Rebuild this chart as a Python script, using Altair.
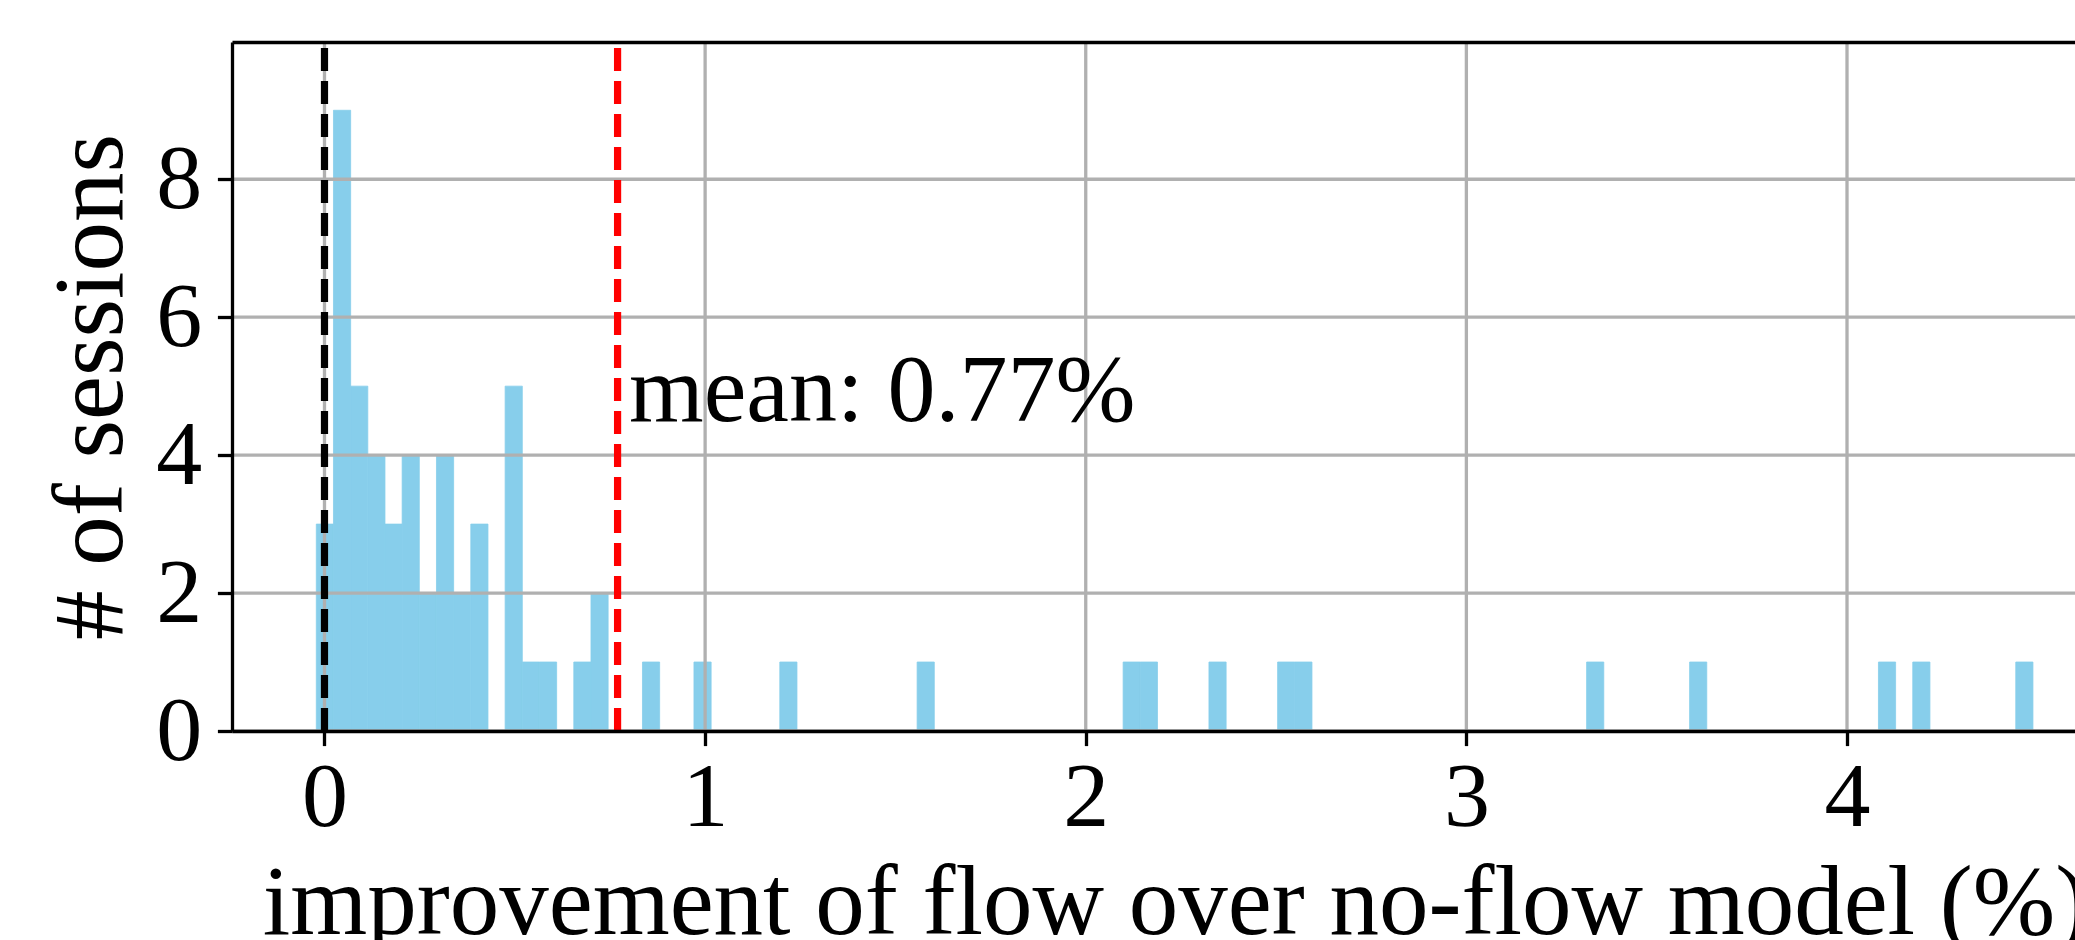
import altair as alt
import pandas as pd

# ---- data ----
bin_start = -0.0215          # left edge of the first bin
bin_width = 0.0451           # width of every bin (100 bins)
bin_numbers = [0, 1, 2, 3, 4, 5, 6, 7, 8, 9, 11, 12, 13, 15, 16, 19, 22,
               27, 35, 47, 48, 52, 56, 57, 74, 80, 91, 93, 99]
bin_counts = [3, 9, 5, 4, 3, 4, 2, 4, 2, 3, 5, 1, 1, 1, 2, 1, 1,
              1, 1, 1, 1, 1, 1, 1, 1, 1, 1, 1, 1]

zero_line = 0.0
mean_value = 0.77
label_text = "mean: 0.77%"
label_x = 0.80
label_y = 4.5

x_ticks = [0, 1, 2, 3, 4]
y_ticks = [0, 2, 4, 6, 8]
x_domain = [-0.243, 4.599]
y_domain = [0, 9.99]

x_title = "improvement of flow over no-flow model (%)"
y_title = "# of sessions"

# ---- tables ----
hist_df = pd.DataFrame({
    "left": [bin_start + n * bin_width for n in bin_numbers],
    "right": [bin_start + (n + 1) * bin_width for n in bin_numbers],
    "count": bin_counts,
})
vline_df = pd.DataFrame({"v": [zero_line, mean_value], "c": ["black", "red"]})
text_df = pd.DataFrame({"x": [label_x], "y": [label_y], "t": [label_text]})
gx_df = pd.DataFrame({"v": x_ticks})
gy_df = pd.DataFrame({"v": y_ticks})

FONT = "Liberation Serif"
W, H = 1843, 689
LW = 3.3
BAR = "#87CEEB"

x_scale = alt.Scale(domain=x_domain, nice=False, zero=False)
y_scale = alt.Scale(domain=y_domain, nice=False, zero=False)

x_axis = alt.Axis(
    orient="bottom", values=x_ticks, format="d", grid=False,
    domain=True, domainColor="black", domainWidth=LW,
    ticks=True, tickColor="black", tickWidth=LW, tickSize=14.6,
    labelFont=FONT, labelFontSize=92, labelColor="black", labelPadding=7,
    labelFlush=False, labelOverlap=False,
    title=x_title, titleFont=FONT, titleFontSize=99, titleFontWeight="normal",
    titleColor="black", titleX=943, titleY=202, titleAlign="center",
    titleBaseline="alphabetic", zindex=1,
)
y_axis = alt.Axis(
    orient="left", values=y_ticks, format="d", grid=False,
    domain=True, domainColor="black", domainWidth=LW,
    ticks=True, tickColor="black", tickWidth=LW, tickSize=14.6,
    labelFont=FONT, labelFontSize=92, labelColor="black", labelPadding=15.7,
    labelFlush=False, labelOverlap=False,
    title=y_title, titleFont=FONT, titleFontSize=99, titleFontWeight="normal",
    titleColor="black", titleAngle=270, titleX=-111, titleY=H / 2,
    titleAlign="center", titleBaseline="alphabetic", zindex=1,
)
top_axis = alt.Axis(
    orient="top", labels=False, ticks=False, grid=False, title=None,
    domain=True, domainColor="black", domainWidth=LW, zindex=1,
)

bars = alt.Chart(hist_df).mark_bar(color=BAR, stroke=BAR, strokeWidth=0.8).encode(
    x=alt.X("left:Q", scale=x_scale, axis=x_axis),
    x2="right:Q",
    y=alt.Y("count:Q", scale=y_scale, axis=y_axis),
    y2=alt.Y2Datum(0),
)

grid_x = alt.Chart(gx_df).mark_rule(color="#b0b0b0", strokeWidth=LW).encode(
    x=alt.X("v:Q", scale=x_scale, axis=top_axis),
)
grid_y = alt.Chart(gy_df).mark_rule(color="#b0b0b0", strokeWidth=LW).encode(
    y=alt.Y("v:Q", scale=y_scale, axis=y_axis),
)

vlines = alt.Chart(vline_df).mark_rule(strokeWidth=7.2, strokeDash=[23, 10]).encode(
    x=alt.X("v:Q", scale=x_scale, axis=None),
    y=alt.YDatum(y_domain[0], scale=y_scale, axis=y_axis),
    y2=alt.Y2Datum(y_domain[1]),
    color=alt.Color("c:N", scale=None, legend=None),
)

label = alt.Chart(text_df).mark_text(
    align="left", baseline="alphabetic", font=FONT, fontSize=96, color="black"
).encode(
    x=alt.X("x:Q", scale=x_scale, axis=None),
    y=alt.Y("y:Q", scale=y_scale, axis=y_axis),
    text="t:N",
)

chart = alt.layer(bars, grid_x, grid_y, vlines, label).properties(
    width=W, height=H,
    autosize=alt.AutoSizeParams(type="none"),
    padding={"left": 232, "top": 42, "right": 0, "bottom": 209},
    background="white",
).configure_view(stroke=None)

chart.save("out.html", embed_options={"renderer": "svg", "actions": False})
